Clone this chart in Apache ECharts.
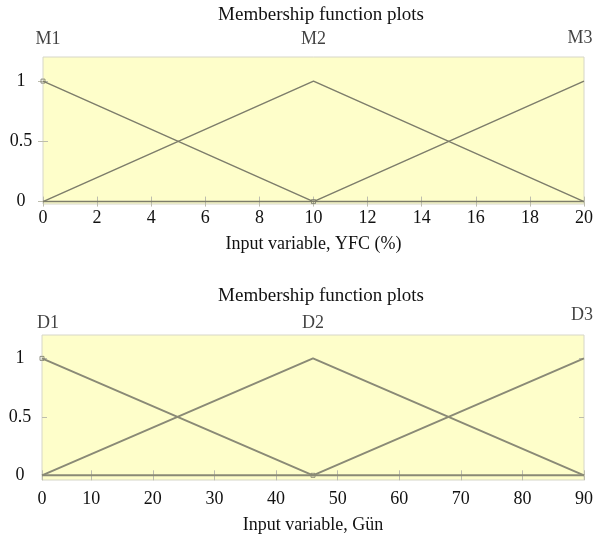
<!DOCTYPE html>
<html>
<head>
<meta charset="utf-8">
<script src="https://cdn.jsdelivr.net/npm/echarts@6/dist/echarts.min.js"></script>
<style>
html, body { margin: 0; padding: 0; background: #fff; }
#chart { width: 596px; height: 538px; }
</style>
</head>
<body>
<div id="chart"></div>
<script>
// top panel: YFC (%)
var yfcTicks = [0, 2, 4, 6, 8, 10, 12, 14, 16, 18, 20];
var m1 = [[0, 1], [10, 0], [20, 0]];
var m2 = [[0, 0], [10, 1], [20, 0]];
var m3 = [[0, 0], [10, 0], [20, 1]];
var mNames = [[0, 1.2, 'M1'], [10, 1.2, 'M2'], [20, 1.2, 'M3']];
var mMarks = [[0, 1], [10, 0]];

// bottom panel: Gün
var gunTicks = [2, 10, 20, 30, 40, 50, 60, 70, 80, 90];
var gunTickLabels = ['0', '10', '20', '30', '40', '50', '60', '70', '80', '90'];
var d1 = [[2, 1], [46, 0], [90, 0]];
var d2 = [[2, 0], [46, 1], [90, 0]];
var d3 = [[2, 0], [46, 0], [90, 1]];
var dNames = [[2, 1.2, 'D1'], [46, 1.2, 'D2'], [90, 1.2, 'D3']];
var dMarks = [[2, 1], [46, 0]];

var yTicks = [0, 0.5, 1];

var font = 'Liberation Serif';
var txt = '#111';
var tickCol = '#bdbdad';

function mfLine(name, data, idx, w, col) {
    return {
        name: name, type: 'line', xAxisIndex: idx * 2, yAxisIndex: idx * 2,
        data: data, showSymbol: false, silent: true,
        lineStyle: { color: col, width: w }
    };
}
function nameLabels(data, idx, offsets) {
    return {
        type: 'scatter', xAxisIndex: idx * 2, yAxisIndex: idx * 2, symbolSize: 0, silent: true,
        data: data.map(function(d, i) {
            return { value: d, label: { offset: offsets[i] } };
        }),
        label: {
            show: true, position: 'top', distance: 0,
            fontFamily: font, fontSize: 18, color: txt,
            formatter: function(p) { return p.value[2]; }
        }
    };
}
function marks(data, idx) {
    return {
        type: 'scatter', xAxisIndex: idx * 2, yAxisIndex: idx * 2, silent: true,
        symbol: 'rect', symbolSize: 4, data: data,
        itemStyle: { color: 'rgba(0,0,0,0)', borderColor: '#777766', borderWidth: 1 }
    };
}
function bottomAxis(idx, min, max, labelVals, fmt, name, nameGap, margin) {
    return {
        type: 'value', gridIndex: idx, position: 'bottom', min: min, max: max,
        splitLine: { show: false },
        axisLine: { show: false },
        axisTick: { show: true, inside: true, length: 5, customValues: labelVals, lineStyle: { color: tickCol } },
        axisLabel: { customValues: labelVals, formatter: fmt, margin: margin, fontFamily: font, fontSize: 18, color: txt, showMinLabel: true, showMaxLabel: true },
        name: name, nameLocation: 'middle', nameGap: nameGap,
        nameTextStyle: { fontFamily: font, fontSize: 18, color: txt }
    };
}
function topAxis(idx, min, max, vals) {
    return {
        type: 'value', gridIndex: idx, position: 'top', min: min, max: max,
        splitLine: { show: false }, axisLine: { show: false },
        axisTick: { show: true, inside: true, length: 5, customValues: vals, lineStyle: { color: tickCol } },
        axisLabel: { show: false }
    };
}
function leftAxis(idx, min) {
    return {
        type: 'value', gridIndex: idx, position: 'left', min: min, max: 1.2,
        splitLine: { show: false }, axisLine: { show: false },
        axisTick: { show: true, inside: true, length: 5, customValues: yTicks, lineStyle: { color: tickCol } },
        axisLabel: { customValues: yTicks, margin: 22, align: 'center', fontFamily: font, fontSize: 18, color: txt }
    };
}
function rightAxis(idx, min) {
    return {
        type: 'value', gridIndex: idx, position: 'right', min: min, max: 1.2,
        splitLine: { show: false }, axisLine: { show: false },
        axisTick: { show: true, inside: true, length: 5, customValues: yTicks, lineStyle: { color: tickCol } },
        axisLabel: { show: false }
    };
}

var chart = echarts.init(document.getElementById('chart'));
var option = {
    backgroundColor: '#fff',
    animation: false,
    title: [
        { text: 'Membership function plots', left: 316, top: 1, textAlign: 'center',
          textStyle: { fontFamily: font, fontSize: 19, fontWeight: 'normal', color: txt } },
        { text: 'Membership function plots', left: 316, top: 282, textAlign: 'center',
          textStyle: { fontFamily: font, fontSize: 19, fontWeight: 'normal', color: txt } }
    ],
    grid: [
        { left: 43, top: 57, width: 543, height: 147, show: true, backgroundColor: '#fefeca', borderColor: '#d6d6c8', borderWidth: 1 },
        { left: 42, top: 335, width: 543, height: 145, show: true, backgroundColor: '#fefeca', borderColor: '#d6d6c8', borderWidth: 1 }
    ],
    xAxis: [
        bottomAxis(0, 0, 20, yfcTicks, null, 'Input variable, YFC (%)', 31, 5),
        topAxis(0, 0, 20, yfcTicks),
        bottomAxis(1, 2, 90, gunTicks, function(v) {
            return gunTickLabels[gunTicks.indexOf(v)];
        }, 'Input variable, Gün', 36, 10),
        topAxis(1, 2, 90, gunTicks)
    ],
    yAxis: [
        leftAxis(0, -0.02),
        rightAxis(0, -0.02),
        leftAxis(1, -0.04),
        rightAxis(1, -0.04)
    ],
    series: [
        mfLine('M1', m1, 0, 1.5, '#7d7d6b'),
        mfLine('M2', m2, 0, 1.5, '#7d7d6b'),
        mfLine('M3', m3, 0, 1.5, '#7d7d6b'),
        marks(mMarks, 0),
        nameLabels(mNames, 0, [[5, -9], [0, -9], [-4, -10]]),
        mfLine('D1', d1, 1, 2, '#8a8a76'),
        mfLine('D2', d2, 1, 2, '#8a8a76'),
        mfLine('D3', d3, 1, 2, '#8a8a76'),
        marks(dMarks, 1),
        nameLabels(dNames, 1, [[6, -3], [0, -3], [-2, -11]])
    ]
};
chart.setOption(option);
</script>
</body>
</html>
